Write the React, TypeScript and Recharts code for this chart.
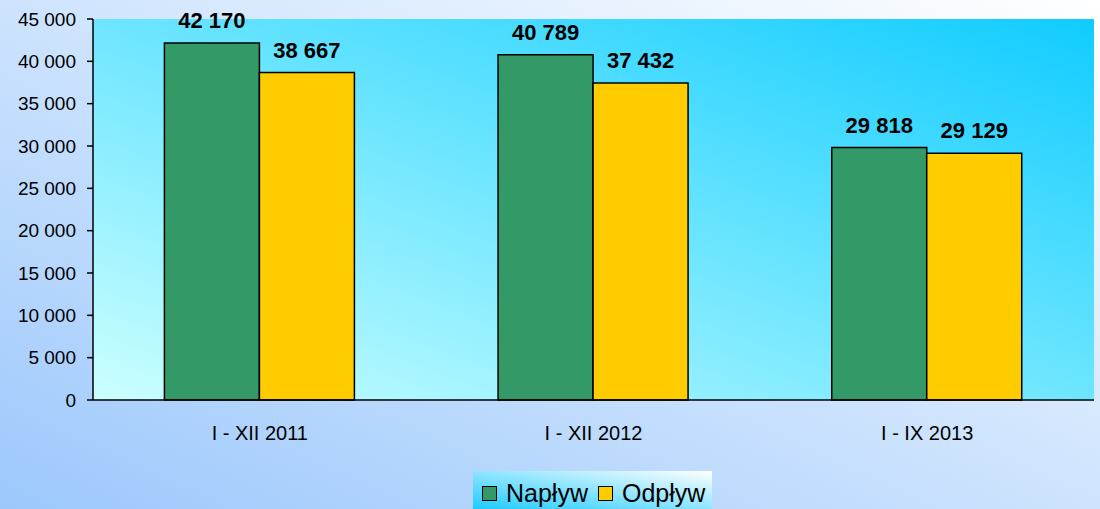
import React from 'react';
import { BarChart, Bar, XAxis, YAxis, Legend, LabelList, CartesianGrid } from 'recharts';

const categories = ['I - XII 2011', 'I - XII 2012', 'I - IX 2013'];
const naplyw = [42170, 40789, 29818];
const odplyw = [38667, 37432, 29129];
const yTicks = [0, 5000, 10000, 15000, 20000, 25000, 30000, 35000, 40000, 45000];
const edgeTicks = [0, 1, 2, 3];

const FONT = '"Liberation Sans", Arial, sans-serif';

const data = categories.map((name, i) => ({
  name,
  naplyw: naplyw[i],
  odplyw: odplyw[i],
}));

// separator tysięcy jako spacja
const fmt = (v: number) => String(v).replace(/\B(?=(\d{3})+(?!\d))/g, ' ');

const LegendBox = () => {
  const items = [
    { label: 'Napływ', color: '#339966' },
    { label: 'Odpływ', color: '#ffcc00' },
  ];
  return (
    <div
      style={{
        width: 239,
        height: 38,
        boxSizing: 'border-box',
        paddingLeft: 9,
        paddingTop: 10,
        display: 'flex',
        background: 'linear-gradient(to top right, #1ecbff, #ffffff)',
        fontFamily: FONT,
        fontSize: 25,
        color: '#000',
      }}
    >
      {items.map((it) => (
        <div key={it.label} style={{ display: 'flex', alignItems: 'center', height: 24, marginRight: 10 }}>
          <span
            style={{
              width: 13,
              height: 13,
              background: it.color,
              border: '1.5px solid #000',
              marginRight: 9,
              display: 'inline-block',
            }}
          />
          <span style={{ lineHeight: '24px' }}>{it.label}</span>
        </div>
      ))}
    </div>
  );
};

const App: React.FC = () => {
  return (
    <div
      style={{
        width: 1100,
        height: 509,
        background: 'linear-gradient(to top right, #9cc8fc, #ffffff)',
        position: 'relative',
        overflow: 'hidden',
      }}
    >
      <style>{'body{margin:0}'}</style>
      <svg width={0} height={0} style={{ position: 'absolute' }}>
        <defs>
          <linearGradient id="plotGrad" x1="0" y1="1" x2="1" y2="0">
            <stop offset="0%" stopColor="#ccffff" />
            <stop offset="100%" stopColor="#10ccff" />
          </linearGradient>
        </defs>
      </svg>
      <BarChart
        width={1100}
        height={509}
        data={data}
        margin={{ top: 19, right: 6, left: 0, bottom: 0 }}
        barCategoryGap="21.4%"
        barGap={0}
      >
        <CartesianGrid horizontal={false} vertical={false} fill="url(#plotGrad)" />
        <XAxis
          xAxisId="edge"
          type="number"
          domain={[0, 3]}
          ticks={edgeTicks}
          tick={false}
          height={0}
          axisLine={false}
          tickLine={{ stroke: '#000', strokeWidth: 1.5 }}
          tickSize={6}
        />
        <XAxis
          dataKey="name"
          height={71}
          tickLine={false}
          tickSize={0}
          tickMargin={26}
          axisLine={{ stroke: '#000', strokeWidth: 1.5 }}
          tick={{ fill: '#000', fontSize: 20, fontFamily: FONT }}
        />
        <YAxis
          width={93}
          domain={[0, 45000]}
          ticks={yTicks}
          tickFormatter={fmt}
          tickSize={6}
          tickMargin={11}
          axisLine={{ stroke: '#000', strokeWidth: 1.5 }}
          tickLine={{ stroke: '#000', strokeWidth: 1.5 }}
          tick={{ fill: '#000', fontSize: 19, fontFamily: FONT }}
        />
        <Legend
          verticalAlign="bottom"
          height={38}
          wrapperStyle={{ left: 473, width: 239 }}
          content={<LegendBox />}
        />
        <Bar dataKey="naplyw" name="Napływ" fill="#339966" stroke="#000" strokeWidth={1.5} isAnimationActive={false}>
          <LabelList
            dataKey="naplyw"
            position="top"
            offset={15}
            formatter={(v: any) => fmt(Number(v))}
            style={{ fill: '#000', fontSize: 22, fontWeight: 'bold', fontFamily: FONT }}
          />
        </Bar>
        <Bar dataKey="odplyw" name="Odpływ" fill="#ffcc00" stroke="#000" strokeWidth={1.5} isAnimationActive={false}>
          <LabelList
            dataKey="odplyw"
            position="top"
            offset={15}
            formatter={(v: any) => fmt(Number(v))}
            style={{ fill: '#000', fontSize: 22, fontWeight: 'bold', fontFamily: FONT }}
          />
        </Bar>
      </BarChart>
    </div>
  );
};

export default App;
